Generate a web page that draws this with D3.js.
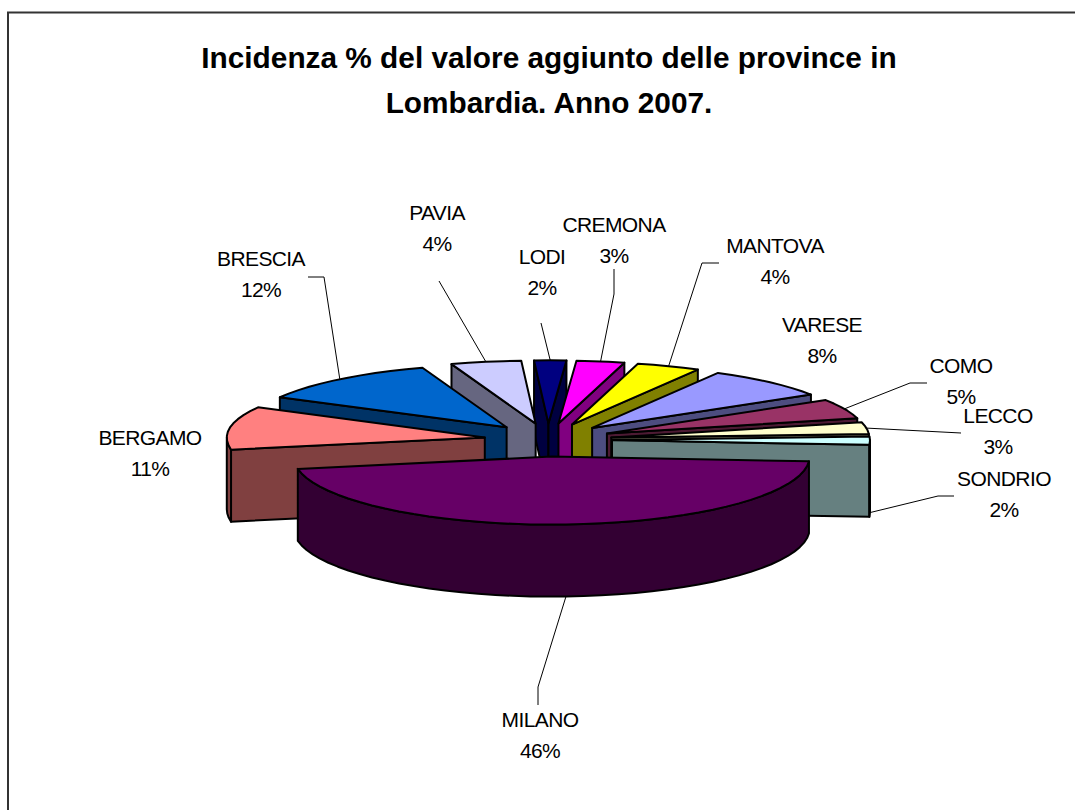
<!DOCTYPE html>
<html><head><meta charset="utf-8">
<script src="https://cdnjs.cloudflare.com/ajax/libs/d3/7.8.5/d3.min.js"></script>
<style>html,body{margin:0;padding:0;background:#fff}svg{display:block}text{font-family:"Liberation Sans",Arial,sans-serif;fill:#000}</style>
</head><body><div id="chart"></div>
<script>
const titleLines = ["Incidenza % del valore aggiunto delle province in", "Lombardia. Anno 2007."];
const provinces = ["MILANO","BERGAMO","BRESCIA","PAVIA","LODI","CREMONA","MANTOVA","VARESE","COMO","LECCO","SONDRIO"];
const shares = [46.0,10.8,11.8,4.4,2.0,3.0,4.0,8.0,5.0,3.0,2.0];
const topColors = ["#660066","#ff8080","#0066cc","#ccccff","#000080","#ff00ff","#ffff00","#9999ff","#993366","#ffffcc","#ccffff"];
const sideColors = ["#330033","#804040","#003366","#666680","#000040","#800080","#808000","#4d4d80","#4d1a33","#808066","#668080"];
// label centres, and optional elbow of the leader line, in page pixels
const labelX = [540,150,261,437,542,614,775,822,961,998,1004];
const labelY = [720,438,259,213,257,225,246,325,366,416,479];
const elbows = [[[538,687],[538,705]],null,[[324,277],[308,277]],[[439,281]],[[541,323]],[[614,294],[614,269]],[[702,263],[719,263]],null,[[910,383],[927,383]],[[961,433]],[[938,496],[954,496]]];
const onWall = ["MILANO","SONDRIO"];

const W=1075,H=810,cx=548,cy=440,explode=64,depth=72;
const svg=d3.select("#chart").append("svg").attr("width",W).attr("height",H);
const toRad=d=>d*Math.PI/180;
const pie=d3.pie().sort(null).startAngle(toRad(94)).endAngle(toRad(94+360));
const X=d3.scaleLinear().domain([-1,1]).range([-258,258]);
const Y=d3.scaleLinear().domain([-1,0,1]).range([-63,0,68]);
const offX=d3.scaleLinear().domain([-1,1]).range([-explode,explode]);
const offY=d3.scaleLinear().domain([-1,1]).range([-explode*0.26,explode*0.26]);
const line=d3.line();

const slices=pie(shares).map((d,i)=>{
  const a=d.startAngle-Math.PI/2,b=d.endAngle-Math.PI/2,m=(a+b)/2;
  return {i,a,b,m,ax:cx+offX(Math.cos(m)),ay:cy+offY(Math.sin(m))};
});
const rim=(s,t,z=0)=>[s.ax+X(Math.cos(t)),s.ay+Y(Math.sin(t))+z];
const arcPts=(s,a,b,z=0)=>{
  const n=Math.max(1,Math.ceil((b-a)/toRad(4)));
  return d3.range(n+1).map(k=>rim(s,a+(b-a)*k/n,z));
};
const g=svg.append("g");
const order=slices.slice().sort((p,q)=>d3.ascending(Math.sin(p.m),Math.sin(q.m)));
const poly=(pts,fill)=>g.append("path").attr("d",line(pts)+"Z").attr("fill",fill)
  .attr("stroke","#000").attr("stroke-width",2).attr("stroke-linejoin","round");
order.forEach(s=>{
  const side=sideColors[s.i];
  const apex=[s.ax,s.ay],apexD=[s.ax,s.ay+depth];
  if(Math.cos(s.a)<0) poly([apex,rim(s,s.a),rim(s,s.a,depth),apexD],side);
  if(Math.cos(s.b)>0) poly([apex,rim(s,s.b),rim(s,s.b,depth),apexD],side);
  [-1,0,1].forEach(k=>{
    const lo=Math.max(s.a,2*Math.PI*k),hi=Math.min(s.b,Math.PI+2*Math.PI*k);
    if(hi>lo) poly([...arcPts(s,lo,hi),...arcPts(s,lo,hi,depth).reverse()],side);
  });
  poly([apex,...arcPts(s,s.a,s.b)],topColors[s.i]);
});

// leader lines
slices.forEach(s=>{
  if(!elbows[s.i])return;
  const z=onWall.includes(provinces[s.i])?depth:0;
  svg.append("path").attr("fill","none").attr("stroke","#000").attr("stroke-width",1)
    .attr("d",line([rim(s,s.m,z),...elbows[s.i]]));
});

// frame
svg.append("path").attr("d","M8,810V12.5H1075").attr("fill","none").attr("stroke","#333").attr("stroke-width",2);

// title
titleLines.forEach((t,i)=>svg.append("text").attr("x",549).attr("y",67.5+i*45)
  .attr("text-anchor","middle").attr("font-size",29.8).attr("font-weight","bold").text(t));

// labels
slices.forEach(s=>{
  const t=svg.append("text").attr("text-anchor","middle").attr("font-size",21).attr("letter-spacing",-0.6);
  t.append("tspan").attr("x",labelX[s.i]).attr("y",labelY[s.i]+6.5).text(provinces[s.i]);
  t.append("tspan").attr("x",labelX[s.i]).attr("y",labelY[s.i]+38).text(Math.round(shares[s.i])+"%");
});
</script></body></html>
